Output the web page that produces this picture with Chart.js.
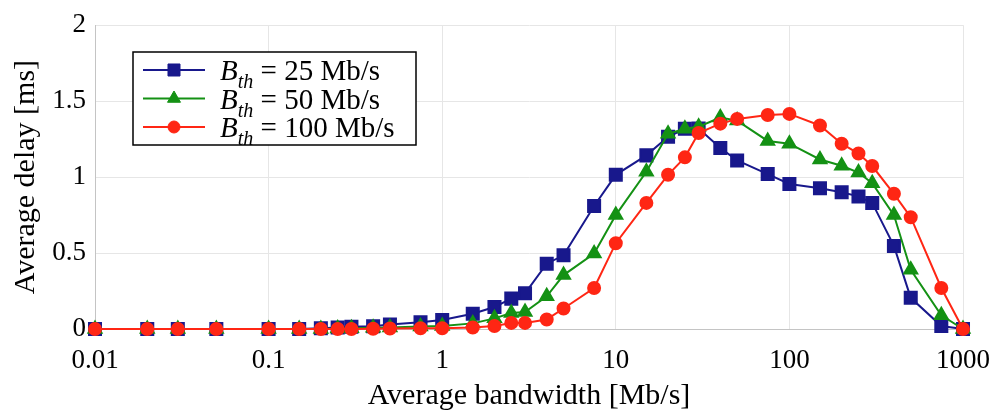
<!DOCTYPE html>
<html>
<head>
<meta charset="utf-8">
<script src="https://cdn.jsdelivr.net/npm/chart.js@4.4.0/dist/chart.umd.min.js"></script>
<style>
  body { margin: 0; background: #fff; }
  #wrap { width: 993px; height: 411px; }
</style>
</head>
<body>
<div id="wrap"><canvas id="delayChart" width="993" height="411"></canvas></div>
<script>
// data
const bandwidth = [0.01, 0.02, 0.03, 0.05, 0.1, 0.15, 0.2, 0.25, 0.3, 0.4, 0.5, 0.75, 1, 1.5, 2, 2.5, 3, 4, 5, 7.5,
                   10, 15, 20, 25, 30, 40, 50, 75, 100, 150, 200, 250, 300, 400, 500, 750, 1000];
const delay25  = [0, 0, 0, 0, 0, 0, 0.005, 0.01, 0.015, 0.018, 0.03, 0.045, 0.06, 0.1, 0.145, 0.2, 0.235, 0.43, 0.485, 0.81,
                  1.015, 1.143, 1.265, 1.318, 1.32, 1.192, 1.11, 1.02, 0.955, 0.927, 0.9, 0.873, 0.83, 0.547, 0.205, 0.02, 0];
const delay50  = [0, 0, 0, 0, 0, 0, 0, 0.003, 0.005, 0.008, 0.01, 0.017, 0.02, 0.037, 0.07, 0.105, 0.112, 0.215, 0.355, 0.497,
                  0.75, 1.035, 1.285, 1.318, 1.332, 1.392, 1.372, 1.238, 1.22, 1.116, 1.075, 1.03, 0.96, 0.75, 0.39, 0.09, 0];
const delay100 = [0, 0, 0, 0, 0, 0, 0, 0, 0, 0.002, 0.003, 0.005, 0.005, 0.01, 0.02, 0.04, 0.04, 0.063, 0.135, 0.27,
                  0.565, 0.83, 1.015, 1.13, 1.29, 1.352, 1.383, 1.409, 1.416, 1.34, 1.22, 1.155, 1.073, 0.89, 0.736, 0.27, 0];
const seriesNames = ['25 Mb/s', '50 Mb/s', '100 Mb/s'];
const xTicks = [0.01, 0.1, 1, 10, 100, 1000];
const xTickLabels = ['0.01', '0.1', '1', '10', '100', '1000'];
const yTickLabels = ['0', '0.5', '1', '1.5', '2'];

const serif = '"Liberation Serif", "Times New Roman", serif';
const blue = 'rgb(24,24,140)', green = 'rgb(20,145,20)', red = 'rgb(255,38,20)';

function pts(ys) {
  return bandwidth.map((x, i) => ({ x: x, y: ys[i] }));
}

// legend drawn inside the plot, like the original figure
const boxLegend = {
  id: 'boxLegend',
  afterDraw(chart) {
    const ctx = chart.ctx;
    const left = 133, top = 52, w = 283, h = 93;
    ctx.save();
    ctx.fillStyle = '#fff';
    ctx.fillRect(left, top, w, h);
    ctx.strokeStyle = '#000';
    ctx.lineWidth = 1.5;
    ctx.strokeRect(left, top, w, h);
    [0, 1, 2].forEach((di, row) => {
      const ds = chart.data.datasets[di];
      const y = top + 18 + row * 28.5;
      ctx.strokeStyle = ds.borderColor;
      ctx.lineWidth = ds.borderWidth;
      ctx.beginPath();
      ctx.moveTo(143, y);
      ctx.lineTo(205, y);
      ctx.stroke();
      ctx.fillStyle = ds.pointBackgroundColor;
      ctx.strokeStyle = ds.pointBorderColor;
      ctx.lineWidth = 1;
      Chart.helpers.drawPoint(ctx, { pointStyle: ds.pointStyle, radius: ds.pointRadius, rotation: 0, borderWidth: 1 }, 174, y);
      ctx.fillStyle = '#000';
      ctx.textBaseline = 'alphabetic';
      let tx = 220;
      const base = y + 10;
      ctx.font = 'italic 29px ' + serif;
      ctx.fillText('B', tx, base);
      tx += ctx.measureText('B').width;
      ctx.font = 'italic 20px ' + serif;
      ctx.fillText('th', tx, base + 8);
      tx += ctx.measureText('th').width;
      ctx.font = '29px ' + serif;
      ctx.fillText(' = ' + seriesNames[di], tx, base);
    });
    ctx.restore();
  }
};

new Chart(document.getElementById('delayChart'), {
  type: 'line',
  data: {
    datasets: [
      { label: seriesNames[0], data: pts(delay25), borderColor: blue, backgroundColor: blue,
        pointBackgroundColor: blue, pointBorderColor: blue, pointStyle: 'rect', pointRadius: 8.5,
        borderWidth: 2, order: 2, clip: false },
      { label: seriesNames[1], data: pts(delay50), borderColor: green, backgroundColor: green,
        pointBackgroundColor: green, pointBorderColor: green, pointStyle: 'triangle', pointRadius: 7.5,
        borderWidth: 2, order: 1, clip: false },
      { label: seriesNames[2], data: pts(delay100), borderColor: red, backgroundColor: red,
        pointBackgroundColor: red, pointBorderColor: red, pointStyle: 'circle', pointRadius: 6,
        borderWidth: 2, order: 0, clip: false }
    ]
  },
  options: {
    responsive: false,
    animation: false,
    layout: { padding: { left: 0, right: 30, top: 22, bottom: 0 } },
    plugins: { legend: { display: false }, tooltip: { enabled: false } },
    scales: {
      x: {
        type: 'logarithmic',
        min: 0.01,
        max: 1000,
        afterBuildTicks: s => { s.ticks = xTicks.map(v => ({ value: v })); },
        afterFit: s => { s.height = 82; s.paddingLeft = 0; s.paddingRight = 0; },
        ticks: {
          callback: (v, i) => xTickLabels[i],
          font: { family: serif, size: 27 },
          color: '#000',
          padding: 16,
          maxRotation: 0,
          autoSkip: false
        },
        grid: { color: '#e6e6e6', drawTicks: false },
        border: { color: '#c4c4c4' },
        title: { display: true, text: 'Average bandwidth [Mb/s]', color: '#000',
                 font: { family: serif, size: 30 }, padding: { top: 0, bottom: -3 } }
      },
      y: {
        min: 0,
        max: 2,
        afterFit: s => { s.width = 95; },
        ticks: {
          stepSize: 0.5,
          callback: (v, i) => yTickLabels[i],
          font: { family: serif, size: 27 },
          color: '#000',
          padding: 9
        },
        grid: { color: '#e6e6e6', drawTicks: false },
        border: { color: '#c4c4c4' },
        title: { display: true, text: 'Average delay [ms]', color: '#000',
                 font: { family: serif, size: 30 }, padding: { top: 8, bottom: 0 } }
      }
    }
  },
  plugins: [boxLegend]
});
</script>
</body>
</html>
